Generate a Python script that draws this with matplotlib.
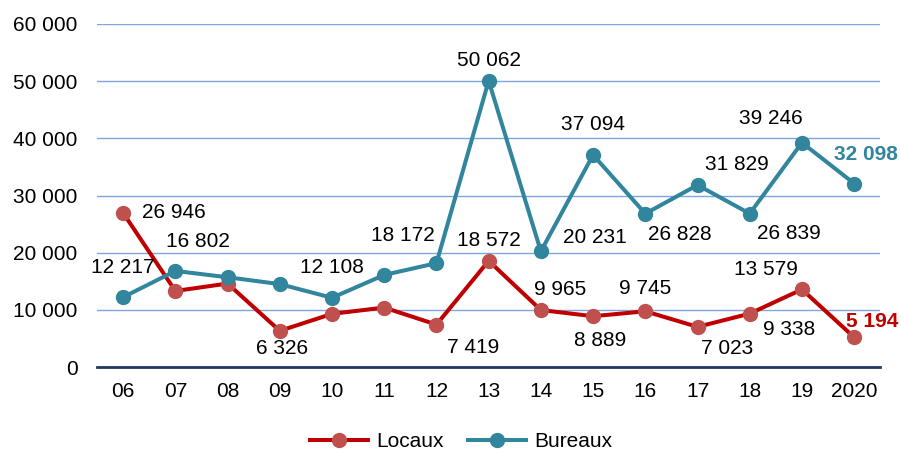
import matplotlib
matplotlib.use('Agg')
from matplotlib import pyplot as plt

plt.rcParams['font.family'] = ['Liberation Sans', 'DejaVu Sans']

years = ['06', '07', '08', '09', '10', '11', '12', '13', '14', '15', '16', '17', '18', '19', '2020']
locaux = [26946, 13300, 14600, 6326, 9300, 10400, 7419, 18572, 9965, 8889, 9745, 7023, 9338, 13579, 5194]
bureaux = [12217, 16802, 15700, 14500, 12108, 16100, 18172, 50062, 20231, 37094, 26828, 31829, 26839, 39246, 32098]

# which points carry a label, with offset in pixels (dx, dy)
locaux_labels = {0: (51, 0), 3: (2, -18), 6: (37, -23), 7: (0, 20), 8: (19, 21),
                 9: (7, -24), 10: (0, 23), 11: (30, -22), 12: (39, -16), 13: (-36, 20),
                 14: (18, 16)}
bureaux_labels = {0: (0, 30), 1: (23, 29), 4: (0, 30), 6: (-34, 28), 7: (0, 20),
                  8: (54, 14), 9: (0, 30), 10: (35, -21), 11: (39, 21), 12: (39, -20),
                  13: (-31, 24), 14: (12, 29)}


def fmt(v):
    return '{:,}'.format(v).replace(',', ' ')


fig = plt.figure(figsize=(9.01, 4.5), dpi=100)
ax = fig.add_axes([0.1077, 0.1844, 0.8693, 0.7623])
x = list(range(len(years)))

ax.plot(x, locaux, '-o', color='#C00000', lw=2.9, marker='o', ms=10,
        mfc='#C0504D', mec='#C0504D', label='Locaux', zorder=3)
ax.plot(x, bureaux, '-o', color='#31859C', lw=2.9, marker='o', ms=10,
        mfc='#31859C', mec='#31859C', label='Bureaux', zorder=4)

last = len(years) - 1
for i, (dx, dy) in locaux_labels.items():
    bold = i == last
    ax.annotate(fmt(locaux[i]), (i, locaux[i]), xytext=(dx, dy), textcoords='offset pixels',
                ha='center', va='center', fontsize=15,
                color='#C00000' if bold else 'black', fontweight='bold' if bold else 'normal')
for i, (dx, dy) in bureaux_labels.items():
    bold = i == last
    ax.annotate(fmt(bureaux[i]), (i, bureaux[i]), xytext=(dx, dy), textcoords='offset pixels',
                ha='center', va='center', fontsize=15,
                color='#31859C' if bold else 'black', fontweight='bold' if bold else 'normal')

ax.set_xlim(-0.5, len(years) - 0.5)
ax.set_ylim(0, 60000)
ax.set_yticks(range(0, 60001, 10000))
ax.set_yticklabels([fmt(v) for v in range(0, 60001, 10000)], fontsize=15)
ax.set_xticks(x)
ax.set_xticklabels(years, fontsize=15)
ax.tick_params(axis='x', length=0, pad=11)
ax.tick_params(axis='y', length=0, pad=14)
ax.yaxis.grid(True, color='#7DA7DC', lw=1)
ax.set_axisbelow(True)
for s in ['top', 'right', 'left']:
    ax.spines[s].set_visible(False)
ax.spines['bottom'].set_color('#1F3864')
ax.spines['bottom'].set_linewidth(2)

ax.legend(loc='upper center', bbox_to_anchor=(0.465, -0.135), ncol=2, frameon=False,
          fontsize=15, handlelength=2.75, columnspacing=1.2, handletextpad=0.4)

plt.savefig('out.png', dpi=100)
